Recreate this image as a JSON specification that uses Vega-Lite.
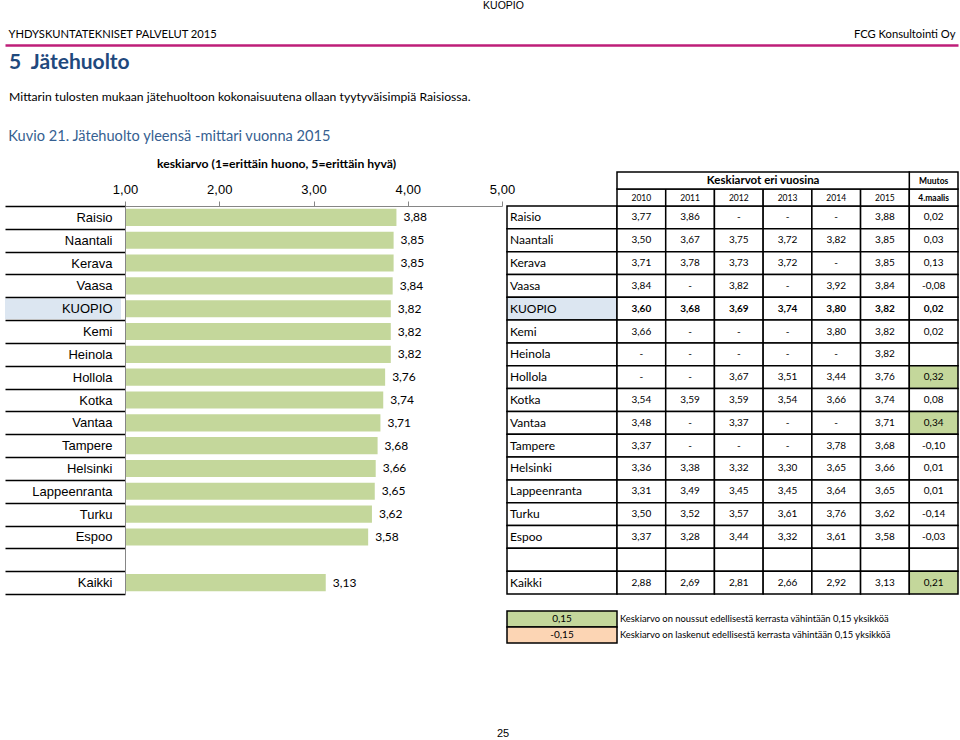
{
  "$schema": "https://vega.github.io/schema/vega-lite/v6.json",
  "padding": {"left": 4, "top": 0, "right": 0, "bottom": 0},
  "background": "white",
  "config": {
    "view": {"stroke": null},
    "locale": {"number": {"decimal": ",", "thousands": " ", "grouping": [3], "currency": ["", " €"], "minus": "-"}}
  },
  "title": {"text": "25", "orient": "bottom", "anchor": "middle", "dx": -38, "offset": 84, "font": "Liberation Sans", "fontSize": 11, "fontWeight": "normal", "color": "black"},
  "spacing": 0,
  "datasets": {
    "t": [
      {"city": "Raisio", "2010": 3.77, "2011": 3.86, "2012": null, "2013": null, "2014": null, "2015": 3.88, "Muutos": 0.02},
      {"city": "Naantali", "2010": 3.50, "2011": 3.67, "2012": 3.75, "2013": 3.72, "2014": 3.82, "2015": 3.85, "Muutos": 0.03},
      {"city": "Kerava", "2010": 3.71, "2011": 3.78, "2012": 3.73, "2013": 3.72, "2014": null, "2015": 3.85, "Muutos": 0.13},
      {"city": "Vaasa", "2010": 3.84, "2011": null, "2012": 3.82, "2013": null, "2014": 3.92, "2015": 3.84, "Muutos": -0.08},
      {"city": "KUOPIO", "2010": 3.60, "2011": 3.68, "2012": 3.69, "2013": 3.74, "2014": 3.80, "2015": 3.82, "Muutos": 0.02},
      {"city": "Kemi", "2010": 3.66, "2011": null, "2012": null, "2013": null, "2014": 3.80, "2015": 3.82, "Muutos": 0.02},
      {"city": "Heinola", "2010": null, "2011": null, "2012": null, "2013": null, "2014": null, "2015": 3.82, "Muutos": null},
      {"city": "Hollola", "2010": null, "2011": null, "2012": 3.67, "2013": 3.51, "2014": 3.44, "2015": 3.76, "Muutos": 0.32},
      {"city": "Kotka", "2010": 3.54, "2011": 3.59, "2012": 3.59, "2013": 3.54, "2014": 3.66, "2015": 3.74, "Muutos": 0.08},
      {"city": "Vantaa", "2010": 3.48, "2011": null, "2012": 3.37, "2013": null, "2014": null, "2015": 3.71, "Muutos": 0.34},
      {"city": "Tampere", "2010": 3.37, "2011": null, "2012": null, "2013": null, "2014": 3.78, "2015": 3.68, "Muutos": -0.10},
      {"city": "Helsinki", "2010": 3.36, "2011": 3.38, "2012": 3.32, "2013": 3.30, "2014": 3.65, "2015": 3.66, "Muutos": 0.01},
      {"city": "Lappeenranta", "2010": 3.31, "2011": 3.49, "2012": 3.45, "2013": 3.45, "2014": 3.64, "2015": 3.65, "Muutos": 0.01},
      {"city": "Turku", "2010": 3.50, "2011": 3.52, "2012": 3.57, "2013": 3.61, "2014": 3.76, "2015": 3.62, "Muutos": -0.14},
      {"city": "Espoo", "2010": 3.37, "2011": 3.28, "2012": 3.44, "2013": 3.32, "2014": 3.61, "2015": 3.58, "Muutos": -0.03},
      {"city": " ", "2010": null, "2011": null, "2012": null, "2013": null, "2014": null, "2015": null, "Muutos": null},
      {"city": "Kaikki", "2010": 2.88, "2011": 2.69, "2012": 2.81, "2013": 2.66, "2014": 2.92, "2015": 3.13, "Muutos": 0.21}
    ],
    "hdr": [
      {"row": "b", "col": "2010", "label": "2010"},
      {"row": "b", "col": "2011", "label": "2011"},
      {"row": "b", "col": "2012", "label": "2012"},
      {"row": "b", "col": "2013", "label": "2013"},
      {"row": "b", "col": "2014", "label": "2014"},
      {"row": "b", "col": "2015", "label": "2015"},
      {"row": "b", "col": "Muutos", "label": "4.maalis"},
      {"row": "a", "col": "Muutos", "label": "Muutos"}
    ],
    "leg": [
      {"v": 0.15, "desc": "Keskiarvo on noussut edellisestä kerrasta vähintään 0,15 yksikköä"},
      {"v": -0.15, "desc": "Keskiarvo on laskenut edellisestä kerrasta vähintään 0,15 yksikköä"}
    ]
  },
  "vconcat": [
    {
      "width": 833,
      "height": 1,
      "title": {"text": "KUOPIO", "anchor": "middle", "dx": -38, "offset": 17, "font": "Liberation Sans", "fontSize": 10.5, "fontWeight": "normal", "color": "black"},
      "data": {"values": [{}]},
      "mark": {"type": "text"},
      "encoding": {
        "x": {"datum": 0, "type": "quantitative", "scale": {"domain": [0, 1], "range": [-120, 833], "nice": false, "zero": false},
          "axis": {"orient": "top", "values": [0, 1], "labelExpr": "datum.value == 0 ? 'YHDYSKUNTATEKNISET PALVELUT 2015' : 'FCG Konsultointi Oy'", "labelFlush": true, "labelFlushOffset": -3, "labelLimit": 600, "labelOverlap": false, "ticks": false, "grid": false, "domainColor": "#BE1E78", "domainWidth": 2.5, "labelFont": "Lato", "labelFontSize": 11.2, "labelColor": "black", "labelPadding": 6, "title": null}},
        "text": {"value": ""}
      }
    },
    {
      "width": 833,
      "height": 21,
      "title": {"text": "5\u00a0\u00a0Jätehuolto", "subtitle": "Mittarin tulosten mukaan jätehuoltoon kokonaisuutena ollaan tyytyväisimpiä Raisiossa.", "anchor": "start", "dx": -116, "offset": 4, "font": "Lato", "fontSize": 21, "fontWeight": "bold", "color": "#1F497D", "subtitleFont": "Lato", "subtitleFontSize": 12.2, "subtitleColor": "black", "subtitlePadding": 18},
      "data": {"values": [{}]},
      "mark": {"type": "text"},
      "encoding": {"text": {"value": ""}}
    },
    {
      "width": 377,
      "height": 388,
      "title": {"text": "Kuvio 21. Jätehuolto yleensä -mittari vuonna 2015", "anchor": "start", "dx": 4, "offset": 14, "font": "Lato", "fontSize": 14.6, "fontWeight": "normal", "color": "#365F91"},
      "resolve": {"scale": {"x": "independent", "y": "independent"}, "axis": {"x": "independent", "y": "independent"}},
      "layer": [
        {
          "data": {"name": "t"},
          "transform": [{"filter": "datum.city == 'KUOPIO'"}],
          "mark": {"type": "rect", "color": "#DCE6F1"},
          "encoding": {
            "x": {"datum": "lab", "type": "nominal", "scale": {"type": "band", "domain": ["lab"], "range": [-120, -4], "paddingInner": 0, "paddingOuter": 0}, "axis": null},
            "y": {"field": "city", "type": "nominal", "sort": null, "scale": {"type": "band", "domain": ["Raisio", "Naantali", "Kerava", "Vaasa", "KUOPIO", "Kemi", "Heinola", "Hollola", "Kotka", "Vantaa", "Tampere", "Helsinki", "Lappeenranta", "Turku", "Espoo", " ", "Kaikki"], "paddingInner": 0.1, "paddingOuter": 0.05}, "axis": null}
          }
        },
        {
          "data": {"name": "t"},
          "mark": {"type": "bar", "color": "#C4D79B"},
          "encoding": {
            "x": {"field": "2015", "type": "quantitative", "scale": {"domain": [1, 5], "zero": false, "nice": false},
              "axis": {"orient": "top", "values": [1, 2, 3, 4, 5], "format": ".2f", "grid": false, "labelFlush": false, "domainColor": "#868686", "tickColor": "#868686", "tickSize": 5, "labelFont": "Liberation Sans", "labelFontSize": 13, "labelColor": "black", "labelPadding": 4.5, "title": "keskiarvo (1=erittäin huono, 5=erittäin hyvä)", "titleFont": "Lato", "titleFontSize": 12.2, "titleFontWeight": "bold", "titleColor": "black", "titlePadding": 13, "titleX": 151}},
            "x2": {"datum": 1},
            "y": {"field": "city", "type": "nominal", "sort": null, "scale": {"type": "band", "domain": ["Raisio", "Naantali", "Kerava", "Vaasa", "KUOPIO", "Kemi", "Heinola", "Hollola", "Kotka", "Vantaa", "Tampere", "Helsinki", "Lappeenranta", "Turku", "Espoo", " ", "Kaikki"], "paddingInner": 0.25, "paddingOuter": 0.125}, "axis": null}
          }
        },
        {
          "data": {"name": "t"},
          "mark": {"type": "text", "align": "left", "dx": 7, "font": "Lato", "fontSize": 12, "color": "black"},
          "encoding": {
            "x": {"field": "2015", "type": "quantitative", "scale": {"domain": [1, 5], "zero": false, "nice": false}, "axis": null},
            "y": {"field": "city", "type": "nominal", "sort": null, "scale": {"type": "band", "domain": ["Raisio", "Naantali", "Kerava", "Vaasa", "KUOPIO", "Kemi", "Heinola", "Hollola", "Kotka", "Vantaa", "Tampere", "Helsinki", "Lappeenranta", "Turku", "Espoo", " ", "Kaikki"], "paddingInner": 0, "paddingOuter": 0},
              "axis": {"orient": "left", "title": null, "domainColor": "#868686", "domainWidth": 1, "tickBand": "extent", "tickSize": 120, "tickColor": "black", "tickWidth": 1.5, "labelPadding": -107, "labelAlign": "right", "labelFont": "Liberation Sans", "labelFontSize": 13, "labelColor": "black", "zindex": 1}},
            "text": {"field": "2015", "type": "quantitative", "format": ".2f"}
          }
        },
        {
          "data": {"name": "t"},
          "mark": {"type": "rect", "stroke": "black", "strokeWidth": 1.5},
          "encoding": {
            "x": {"datum": "name", "type": "nominal", "scale": {"type": "band", "domain": ["name"], "range": [382, 492], "paddingInner": 0, "paddingOuter": 0}, "axis": null},
            "y": {"field": "city", "type": "nominal", "sort": null, "scale": {"type": "band", "domain": ["Raisio", "Naantali", "Kerava", "Vaasa", "KUOPIO", "Kemi", "Heinola", "Hollola", "Kotka", "Vantaa", "Tampere", "Helsinki", "Lappeenranta", "Turku", "Espoo", " ", "Kaikki"], "paddingInner": 0, "paddingOuter": 0}, "axis": null},
            "fill": {"condition": {"test": "datum.city == 'KUOPIO'", "value": "#DCE6F1"}, "value": "white"}
          }
        },
        {
          "data": {"name": "t"},
          "mark": {"type": "text", "align": "left", "dx": 3, "font": "Lato", "fontSize": 12, "color": "black"},
          "encoding": {
            "x": {"datum": "name", "type": "nominal", "bandPosition": 0, "scale": {"type": "band", "domain": ["name"], "range": [382, 492], "paddingInner": 0, "paddingOuter": 0}, "axis": null},
            "y": {"field": "city", "type": "nominal", "sort": null, "scale": {"type": "band", "domain": ["Raisio", "Naantali", "Kerava", "Vaasa", "KUOPIO", "Kemi", "Heinola", "Hollola", "Kotka", "Vantaa", "Tampere", "Helsinki", "Lappeenranta", "Turku", "Espoo", " ", "Kaikki"], "paddingInner": 0, "paddingOuter": 0}, "axis": null},
            "text": {"field": "city", "type": "nominal"}
          }
        },
        {
          "data": {"name": "t"},
          "transform": [{"fold": ["2010", "2011", "2012", "2013", "2014", "2015", "Muutos"], "as": ["col", "v"]}],
          "mark": {"type": "rect", "stroke": "black", "strokeWidth": 1.5},
          "encoding": {
            "x": {"field": "col", "type": "nominal", "scale": {"type": "band", "domain": ["2010", "2011", "2012", "2013", "2014", "2015", "Muutos"], "range": [492, 833], "paddingInner": 0, "paddingOuter": 0}, "axis": null},
            "y": {"field": "city", "type": "nominal", "sort": null, "scale": {"type": "band", "domain": ["Raisio", "Naantali", "Kerava", "Vaasa", "KUOPIO", "Kemi", "Heinola", "Hollola", "Kotka", "Vantaa", "Tampere", "Helsinki", "Lappeenranta", "Turku", "Espoo", " ", "Kaikki"], "paddingInner": 0, "paddingOuter": 0}, "axis": null},
            "fill": {"condition": [
              {"test": "datum.col == 'Muutos' && datum.v != null && datum.v >= 0.15", "value": "#C4D79B"},
              {"test": "datum.col == 'Muutos' && datum.v != null && datum.v <= -0.15", "value": "#FCD5B4"}
            ], "value": "white"}
          }
        },
        {
          "data": {"name": "t"},
          "transform": [{"fold": ["2010", "2011", "2012", "2013", "2014", "2015", "Muutos"], "as": ["col", "v"]}, {"filter": "datum.city != 'KUOPIO'"}],
          "mark": {"type": "text", "font": "Lato", "fontSize": 10, "color": "black"},
          "encoding": {
            "x": {"field": "col", "type": "nominal", "scale": {"type": "band", "domain": ["2010", "2011", "2012", "2013", "2014", "2015", "Muutos"], "range": [492, 833], "paddingInner": 0, "paddingOuter": 0}, "axis": null},
            "y": {"field": "city", "type": "nominal", "sort": null, "scale": {"type": "band", "domain": ["Raisio", "Naantali", "Kerava", "Vaasa", "KUOPIO", "Kemi", "Heinola", "Hollola", "Kotka", "Vantaa", "Tampere", "Helsinki", "Lappeenranta", "Turku", "Espoo", " ", "Kaikki"], "paddingInner": 0, "paddingOuter": 0}, "axis": null},
            "text": {"condition": [
              {"test": "datum.v == null && (datum.col == 'Muutos' || datum.city == ' ')", "value": ""},
              {"test": "datum.v == null", "value": "-"}
            ], "field": "v", "type": "quantitative", "format": ".2f"}
          }
        },
        {
          "data": {"name": "t"},
          "transform": [{"fold": ["2010", "2011", "2012", "2013", "2014", "2015", "Muutos"], "as": ["col", "v"]}, {"filter": "datum.city == 'KUOPIO'"}],
          "mark": {"type": "text", "font": "Lato", "fontSize": 10, "fontWeight": "bold", "color": "black"},
          "encoding": {
            "x": {"field": "col", "type": "nominal", "scale": {"type": "band", "domain": ["2010", "2011", "2012", "2013", "2014", "2015", "Muutos"], "range": [492, 833], "paddingInner": 0, "paddingOuter": 0}, "axis": null},
            "y": {"field": "city", "type": "nominal", "sort": null, "scale": {"type": "band", "domain": ["Raisio", "Naantali", "Kerava", "Vaasa", "KUOPIO", "Kemi", "Heinola", "Hollola", "Kotka", "Vantaa", "Tampere", "Helsinki", "Lappeenranta", "Turku", "Espoo", " ", "Kaikki"], "paddingInner": 0, "paddingOuter": 0}, "axis": null},
            "text": {"field": "v", "type": "quantitative", "format": ".2f"}
          }
        },
        {
          "data": {"name": "hdr"},
          "mark": {"type": "rect", "fill": "white", "stroke": "black", "strokeWidth": 1.5},
          "encoding": {
            "x": {"field": "col", "type": "nominal", "scale": {"type": "band", "domain": ["2010", "2011", "2012", "2013", "2014", "2015", "Muutos"], "range": [492, 833], "paddingInner": 0, "paddingOuter": 0}, "axis": null},
            "y": {"field": "row", "type": "nominal", "scale": {"type": "band", "domain": ["a", "b"], "range": [-34, 0], "paddingInner": 0, "paddingOuter": 0}, "axis": null}
          }
        },
        {
          "data": {"values": [{"t": "Keskiarvot eri vuosina"}]},
          "mark": {"type": "rect", "fill": "white", "stroke": "black", "strokeWidth": 1.5},
          "encoding": {
            "x": {"datum": 0, "type": "quantitative", "scale": {"domain": [0, 7], "range": [492, 833], "nice": false, "zero": false}, "axis": null},
            "x2": {"datum": 6},
            "y": {"datum": "a", "type": "nominal", "scale": {"type": "band", "domain": ["a", "b"], "range": [-34, 0], "paddingInner": 0, "paddingOuter": 0}, "axis": null}
          }
        },
        {
          "data": {"values": [{"t": "Keskiarvot eri vuosina"}]},
          "mark": {"type": "text", "font": "Lato", "fontSize": 11.5, "fontWeight": "bold", "color": "black"},
          "encoding": {
            "x": {"datum": 3, "type": "quantitative", "scale": {"domain": [0, 7], "range": [492, 833], "nice": false, "zero": false}, "axis": null},
            "y": {"datum": "a", "type": "nominal", "scale": {"type": "band", "domain": ["a", "b"], "range": [-34, 0], "paddingInner": 0, "paddingOuter": 0}, "axis": null},
            "text": {"field": "t", "type": "nominal"}
          }
        },
        {
          "data": {"name": "hdr"},
          "transform": [{"filter": "datum.col != 'Muutos'"}],
          "mark": {"type": "text", "font": "Lato", "fontSize": 8.5, "color": "black"},
          "encoding": {
            "x": {"field": "col", "type": "nominal", "scale": {"type": "band", "domain": ["2010", "2011", "2012", "2013", "2014", "2015", "Muutos"], "range": [492, 833], "paddingInner": 0, "paddingOuter": 0}, "axis": null},
            "y": {"field": "row", "type": "nominal", "scale": {"type": "band", "domain": ["a", "b"], "range": [-34, 0], "paddingInner": 0, "paddingOuter": 0}, "axis": null},
            "text": {"field": "label", "type": "nominal"}
          }
        },
        {
          "data": {"name": "hdr"},
          "transform": [{"filter": "datum.col == 'Muutos'"}],
          "mark": {"type": "text", "font": "Lato", "fontSize": 8.5, "fontWeight": "bold", "color": "black"},
          "encoding": {
            "x": {"field": "col", "type": "nominal", "scale": {"type": "band", "domain": ["2010", "2011", "2012", "2013", "2014", "2015", "Muutos"], "range": [492, 833], "paddingInner": 0, "paddingOuter": 0}, "axis": null},
            "y": {"field": "row", "type": "nominal", "scale": {"type": "band", "domain": ["a", "b"], "range": [-34, 0], "paddingInner": 0, "paddingOuter": 0}, "axis": null},
            "text": {"field": "label", "type": "nominal"}
          }
        },
        {
          "data": {"name": "leg"},
          "mark": {"type": "rect", "stroke": "black", "strokeWidth": 1.5},
          "encoding": {
            "x": {"datum": "name", "type": "nominal", "scale": {"type": "band", "domain": ["name"], "range": [382, 492], "paddingInner": 0, "paddingOuter": 0}, "axis": null},
            "y": {"field": "desc", "type": "nominal", "scale": {"type": "band", "domain": ["Keskiarvo on noussut edellisestä kerrasta vähintään 0,15 yksikköä", "Keskiarvo on laskenut edellisestä kerrasta vähintään 0,15 yksikköä"], "range": [405, 437], "paddingInner": 0, "paddingOuter": 0}, "axis": null},
            "fill": {"condition": {"test": "datum.v > 0", "value": "#C4D79B"}, "value": "#FCD5B4"}
          }
        },
        {
          "data": {"name": "leg"},
          "mark": {"type": "text", "font": "Lato", "fontSize": 10, "color": "black"},
          "encoding": {
            "x": {"datum": "name", "type": "nominal", "scale": {"type": "band", "domain": ["name"], "range": [382, 492], "paddingInner": 0, "paddingOuter": 0}, "axis": null},
            "y": {"field": "desc", "type": "nominal", "scale": {"type": "band", "domain": ["Keskiarvo on noussut edellisestä kerrasta vähintään 0,15 yksikköä", "Keskiarvo on laskenut edellisestä kerrasta vähintään 0,15 yksikköä"], "range": [405, 437], "paddingInner": 0, "paddingOuter": 0}, "axis": null},
            "text": {"field": "v", "type": "quantitative", "format": ".2f"}
          }
        },
        {
          "data": {"name": "leg"},
          "mark": {"type": "text", "align": "left", "dx": 3, "font": "Lato", "fontSize": 9.4, "color": "black"},
          "encoding": {
            "x": {"datum": "name", "type": "nominal", "bandPosition": 1, "scale": {"type": "band", "domain": ["name"], "range": [382, 492], "paddingInner": 0, "paddingOuter": 0}, "axis": null},
            "y": {"field": "desc", "type": "nominal", "scale": {"type": "band", "domain": ["Keskiarvo on noussut edellisestä kerrasta vähintään 0,15 yksikköä", "Keskiarvo on laskenut edellisestä kerrasta vähintään 0,15 yksikköä"], "range": [405, 437], "paddingInner": 0, "paddingOuter": 0}, "axis": null},
            "text": {"field": "desc", "type": "nominal"}
          }
        }
      ]
    }
  ]
}
